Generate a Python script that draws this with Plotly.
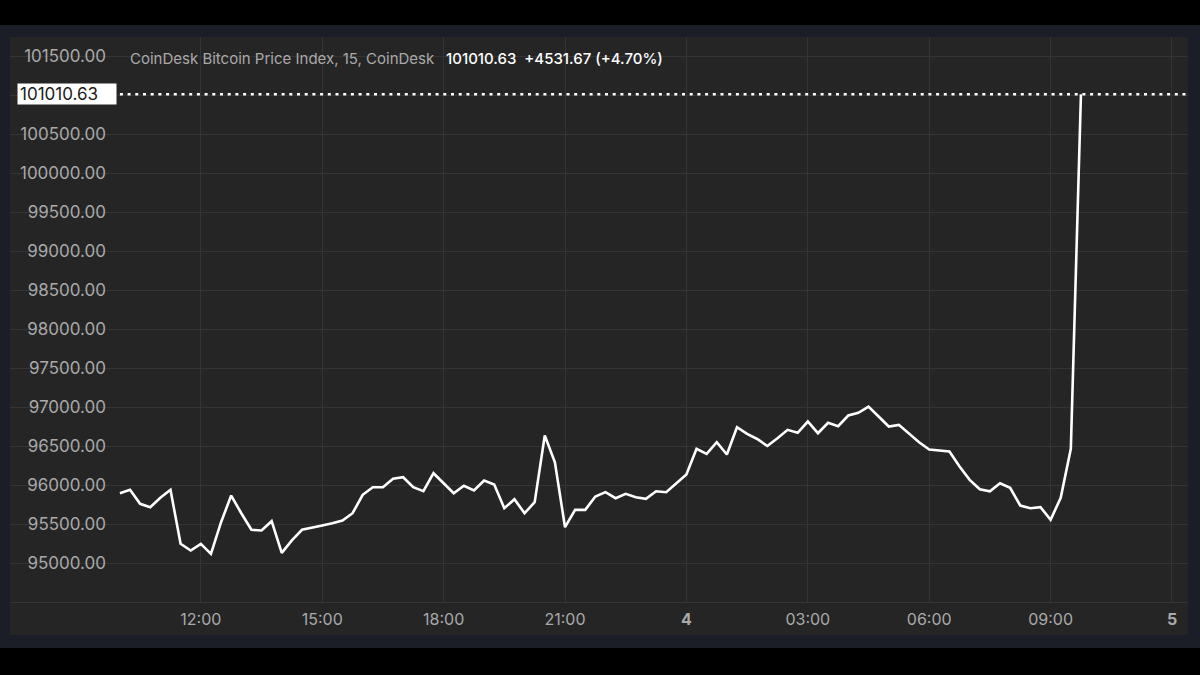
import pandas as pd
import plotly.graph_objects as go

# ---------------- data ----------------
start_time = "2024-12-03 10:00"
interval = "15min"
prices = [
    95895, 95938, 95759, 95716, 95836, 95938, 95246, 95160, 95246, 95118,
    95523, 95865, 95638, 95426, 95417, 95536, 95130, 95289, 95426, 95450,
    95480, 95510, 95545, 95638, 95874, 95972, 95972, 96079, 96100, 95972,
    95920, 96151, 96023, 95895, 95990, 95929, 96058, 96006, 95703, 95818,
    95638, 95780, 96634, 96292, 95459, 95681, 95681, 95852, 95908, 95831,
    95887, 95844, 95823, 95920, 95908, 96023, 96135, 96464, 96400, 96549,
    96391, 96741, 96656, 96590, 96500, 96600, 96707, 96669, 96814, 96664,
    96797, 96754, 96891, 96926, 97006, 96878, 96750, 96771, 96664, 96549,
    96455, 96442, 96429, 96237, 96066, 95946, 95920, 96023, 95964, 95737,
    95703, 95716, 95554, 95836, 96464, 101010.63,
]
times = pd.date_range(start_time, periods=len(prices), freq=interval)

x_tick_vals = ["2024-12-03 12:00", "2024-12-03 15:00", "2024-12-03 18:00",
               "2024-12-03 21:00", "2024-12-04 00:00", "2024-12-04 03:00",
               "2024-12-04 06:00", "2024-12-04 09:00", "2024-12-04 12:00"]
x_tick_text = ["12:00", "15:00", "18:00", "21:00", "<b>4</b>", "03:00",
               "06:00", "09:00", "<b>5</b>"]
x_range = ["2024-12-03 07:17:03", "2024-12-04 12:23:44"]

y_tick_vals = list(range(94500, 102000, 500))
y_range = [94500, 101743.6]

title_name = "CoinDesk Bitcoin Price Index, 15, CoinDesk"
last_price = prices[-1]
change_abs = 4531.67
change_pct = 4.70

# tick labels (the bottom gridline and the one hidden by the price tag are unlabeled)
y_tick_text = ["" if (v == y_tick_vals[0] or abs(v - last_price) < 250) else f"{v:.2f}"
               for v in y_tick_vals]

# ---------------- style ----------------
W, H = 1200, 675
ML, MR, MT, MB = 10, 12, 37, 73
PANEL = "#252525"
FRAME = "#1b1e27"
GRID = "#343434"
TXT = "#a9a9a9"
FONT = "Inter, Roboto, 'Noto Sans', sans-serif"

pw = W - ML - MR
ph = H - MT - MB

def px_x(p):
    return (p - ML) / pw

def px_y(p):
    return (H - MB - p) / ph

fig = go.Figure()
fig.add_trace(go.Scatter(
    x=times, y=prices, mode="lines",
    line=dict(color="#ffffff", width=2.6),
    hoverinfo="skip", showlegend=False,
))

shapes = [
    dict(type="rect", xref="paper", yref="paper", layer="below",
         x0=px_x(0), x1=px_x(W), y0=px_y(648), y1=px_y(25),
         fillcolor=FRAME, line=dict(width=0)),
    dict(type="rect", xref="paper", yref="paper", layer="below",
         x0=px_x(10), x1=px_x(1188), y0=px_y(635), y1=px_y(37),
         fillcolor=PANEL, line=dict(width=0)),
    dict(type="line", xref="x", yref="y", layer="above",
         x0=times[0], x1=x_range[1], y0=last_price, y1=last_price,
         line=dict(color="#ffffff", width=2.5, dash="3px,4.7px")),
]

annotations = [
    dict(xref="paper", yref="paper", x=px_x(128), y=px_y(58),
         xanchor="left", yanchor="middle", showarrow=False,
         text=f"{title_name}",
         font=dict(family=FONT, size=15, color=TXT)),
    dict(xref="paper", yref="paper", x=px_x(444), y=px_y(58),
         xanchor="left", yanchor="middle", showarrow=False,
         text=f"{last_price:.2f}  +{change_abs:.2f} (+{change_pct:.2f}%)",
         font=dict(family=FONT, size=15, color="#ffffff", weight=500)),
    dict(xref="paper", yref="y", x=px_x(17), y=last_price,
         xanchor="left", yanchor="middle", showarrow=False,
         text=f"{last_price:.2f}", align="left",
         width=94, height=16, borderpad=2, bgcolor="#ffffff",
         font=dict(family=FONT, size=17, color="#1a1a1a")),
]

fig.update_layout(
    width=W, height=H,
    margin=dict(l=ML, r=MR, t=MT, b=MB, pad=0),
    paper_bgcolor="#000000",
    plot_bgcolor=PANEL,
    font=dict(family=FONT, color=TXT),
    shapes=shapes,
    annotations=annotations,
    showlegend=False,
    xaxis=dict(
        type="date", range=x_range, tickvals=x_tick_vals, ticktext=x_tick_text,
        showgrid=True, gridcolor=GRID, gridwidth=1, zeroline=False,
        showline=True, linecolor=GRID, linewidth=1,
        ticks="outside", ticklen=3, tickcolor="rgba(0,0,0,0)",
        tickfont=dict(family=FONT, size=16, color=TXT),
        anchor="y", fixedrange=True,
    ),
    yaxis=dict(
        range=y_range, tickvals=y_tick_vals, ticktext=y_tick_text,
        showgrid=True, gridcolor=GRID, gridwidth=1, zeroline=False,
        showline=False, ticks="", anchor="free", position=px_x(106), side="left",
        tickfont=dict(family=FONT, size=17, color=TXT),
        fixedrange=True,
    ),
)

fig.write_html(
    "out.html",
    config={"displayModeBar": False},
    post_script="document.body.style.margin='0';document.body.style.background='#000';",
)
